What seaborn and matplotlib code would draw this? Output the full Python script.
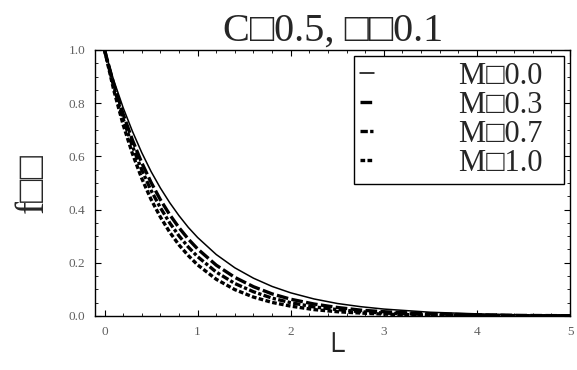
import numpy as np
import pandas as pd
import seaborn as sns
import matplotlib.pyplot as plt
from matplotlib.ticker import MultipleLocator

# valores
eta = [0, 0.1, 0.2, 0.3, 0.4, 0.5, 0.6, 0.7, 0.8, 0.9, 1.0, 1.2, 1.4, 1.6, 1.8,
       2.0, 2.25, 2.5, 2.75, 3.0, 3.5, 4.0, 4.5, 5.0]
f_m00 = [1.000, 0.885, 0.783, 0.694, 0.614, 0.543, 0.481, 0.426, 0.377, 0.333, 0.295,
         0.231, 0.181, 0.142, 0.111, 0.087, 0.064, 0.047, 0.035, 0.026, 0.014, 0.008, 0.004, 0.002]
f_m03 = [1.000, 0.871, 0.759, 0.661, 0.576, 0.502, 0.437, 0.381, 0.332, 0.289, 0.252,
         0.191, 0.145, 0.110, 0.083, 0.063, 0.045, 0.032, 0.022, 0.016, 0.008, 0.004, 0.002, 0.001]
f_m07 = [1.000, 0.861, 0.741, 0.638, 0.549, 0.472, 0.407, 0.350, 0.301, 0.259, 0.223,
         0.165, 0.122, 0.091, 0.067, 0.050, 0.034, 0.024, 0.016, 0.011, 0.005, 0.002, 0.001, 0.001]
f_m10 = [1.000, 0.848, 0.719, 0.610, 0.517, 0.438, 0.372, 0.315, 0.267, 0.227, 0.192,
         0.138, 0.099, 0.071, 0.051, 0.037, 0.024, 0.016, 0.011, 0.007, 0.003, 0.001, 0.001, 0.000]
labels = ["M\u25a10.0  ", "M\u25a10.3  ", "M\u25a10.7  ", "M\u25a11.0  "]

sns.set_style("ticks")
plt.rcParams['font.family'] = ['Liberation Serif', 'DejaVu Sans']

fig = plt.figure(figsize=(5.77, 3.70), dpi=100)
ax = fig.add_axes([0.165, 0.146, 0.823, 0.719])

estilos = [('-', 1.1), ((0, (3.5, 1.0)), 2.4), ((0, (2.2, 0.7, 1.0, 0.7)), 2.4), ((0, (1.4, 0.7)), 2.4)]
for vals, lab, (ls, lw) in zip([f_m00, f_m03, f_m07, f_m10], labels, estilos):
    sns.lineplot(x=eta, y=vals, ax=ax, color='black', linestyle=ls, linewidth=lw, label=lab)

ax.set_xlim(-0.1, 5.0)
ax.set_ylim(0, 1.0)
ax.xaxis.set_major_locator(MultipleLocator(1))
ax.xaxis.set_minor_locator(MultipleLocator(0.2))
ax.yaxis.set_minor_locator(MultipleLocator(0.05))
ax.set_yticks([0, 0.2, 0.4, 0.6, 0.8, 1.0])
ax.set_yticklabels(['0.0', '0.2', '0.4', '0.6', '0.8', '1.0'])
ax.tick_params(which='both', direction='in', top=True, right=True, labelsize=9.5,
               labelcolor='#606060', color='black')
ax.tick_params(which='major', length=4, pad=7)
ax.tick_params(which='minor', length=2)
for s in ax.spines.values():
    s.set_linewidth(1.0)
    s.set_color('black')

ax.set_title("C\u25a10.5, \u25a1\u25a10.1", fontsize=29, pad=5)
ax.set_ylabel("f\u25a1\u25a1", fontsize=28, labelpad=12)
ax.set_xlabel("\u2514", fontsize=22, labelpad=0)

leg = ax.legend(loc='upper right', fontsize=22, frameon=True, fancybox=False,
                edgecolor='black', framealpha=1, handlelength=0.45, handletextpad=2.8,
                labelspacing=0.0, borderpad=0.2, borderaxespad=0.2)
leg.get_frame().set_linewidth(1.0)

plt.savefig("out.png", dpi=100)
plt.close()
